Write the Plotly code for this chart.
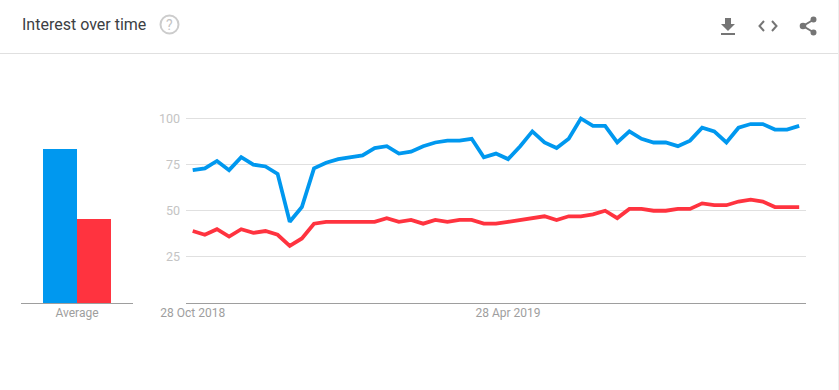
import pandas as pd
import plotly.graph_objects as go

W, H = 839, 390

dates = pd.date_range("2018-10-28", periods=51, freq="7D")
blue_values = [72, 73, 77, 72, 79, 75, 74, 70, 44, 52, 73, 76, 78, 79, 80, 84, 85, 81, 82, 85,
               87, 88, 88, 89, 79, 81, 78, 85, 93, 87, 84, 89, 100, 96, 96, 87, 93, 89, 87, 87,
               85, 88, 95, 93, 87, 95, 97, 97, 94, 94, 96]
red_values = [39, 37, 40, 36, 40, 38, 39, 37, 31, 35, 43, 44, 44, 44, 44, 44, 46, 44, 45, 43,
              45, 44, 45, 45, 43, 43, 44, 45, 46, 47, 45, 47, 47, 48, 50, 46, 51, 51, 50, 50,
              51, 51, 54, 53, 53, 55, 56, 55, 52, 52, 52]
average_blue = [83.5]
average_red = [45.5]
average_label = ["Average"]
y_ticks = [25, 50, 75, 100]
x_ticks = ["2018-10-28", "2019-04-28"]
x_tick_labels = ["28 Oct 2018", "28 Apr 2019"]

BLUE = "#0098ef"
RED = "#ff333f"
GRID = "#e0e0e0"
AXIS = "#9e9e9e"


def px(x):
    return x / W


def py(y):
    return 1 - y / H


def path(*cmds):
    out = []
    for c in cmds:
        if isinstance(c, str):
            out.append(c)
        else:
            out.append(f"{px(c[0]):.5f},{py(c[1]):.5f}")
    return " ".join(out)


def icon(d, **kw):
    return dict(type="path", xref="paper", yref="paper", path=d, layer="above", **kw)


def circle(cx, cy, r, **kw):
    return dict(type="circle", xref="paper", yref="paper", x0=px(cx - r), x1=px(cx + r),
                y0=py(cy + r), y1=py(cy - r), layer="above", **kw)


fig = go.Figure()
fig.add_trace(go.Bar(x=average_label, y=average_blue, marker=dict(color=BLUE, line_width=0),
                     xaxis="x", yaxis="y", showlegend=False))
fig.add_trace(go.Bar(x=average_label, y=average_red, marker=dict(color=RED, line_width=0),
                     xaxis="x", yaxis="y", showlegend=False))
fig.add_trace(go.Scatter(x=dates, y=blue_values, mode="lines", line=dict(color=BLUE, width=3.8),
                         xaxis="x2", yaxis="y2", showlegend=False))
fig.add_trace(go.Scatter(x=dates, y=red_values, mode="lines", line=dict(color=RED, width=3.8),
                         xaxis="x2", yaxis="y2", showlegend=False))

y_top = 303 - 110 * 1.845
y_domain = [py(303), py(y_top)]
ICON = "#757575"

shapes = [
    dict(type="line", xref="paper", yref="paper", x0=0, x1=1, y0=py(53.5), y1=py(53.5),
         line=dict(color=GRID, width=1)),
    dict(type="line", xref="paper", yref="paper", x0=px(838.5), x1=px(838.5), y0=0, y1=1,
         line=dict(color="#eeeeee", width=1)),
    circle(169.5, 24.5, 9, line=dict(color="#cccccc", width=2), fillcolor="rgba(0,0,0,0)"),
    icon(path("M", (725, 18), "L", (731, 18), "L", (731, 24), "L", (735, 24), "L", (728, 31),
              "L", (721, 24), "L", (725, 24), "Z"), line_width=0, fillcolor=ICON),
    icon(path("M", (721, 33), "L", (735, 33), "L", (735, 35), "L", (721, 35), "Z"),
         line_width=0, fillcolor=ICON),
    icon(path("M", (764, 21), "L", (759.5, 26), "L", (764, 31)), line=dict(color=ICON, width=2),
         fillcolor="rgba(0,0,0,0)"),
    icon(path("M", (772, 21), "L", (776.5, 26), "L", (772, 31)), line=dict(color=ICON, width=2),
         fillcolor="rgba(0,0,0,0)"),
    icon(path("M", (813, 20), "L", (803, 26), "L", (813, 32)), line=dict(color=ICON, width=2),
         fillcolor="rgba(0,0,0,0)"),
    circle(803, 26, 3.3, line_width=0, fillcolor=ICON),
    circle(813.5, 19.5, 3, line_width=0, fillcolor=ICON),
    circle(813.5, 32.5, 3, line_width=0, fillcolor=ICON),
]

annotations = [
    dict(text="Interest over time", xref="paper", yref="paper", x=px(19.5), y=py(25), xanchor="left",
         yanchor="middle", showarrow=False, font=dict(family="Roboto", size=16, color="#3c4043")),
    dict(text="?", xref="paper", yref="paper", x=px(169.5), y=py(24.5), xanchor="center",
         yanchor="middle", showarrow=False, font=dict(family="Roboto", size=14, color="#c4c4c4")),
]

fig.update_layout(
    width=W, height=H, autosize=False,
    margin=dict(l=0, r=0, t=0, b=0, pad=0),
    paper_bgcolor="white", plot_bgcolor="white",
    barmode="group", bargap=0.393, bargroupgap=0,
    shapes=shapes, annotations=annotations,
    xaxis=dict(domain=[px(21), px(133)], type="category", showgrid=False, zeroline=False,
               showline=True, linecolor=AXIS, linewidth=1, ticks="", ticklabelstandoff=-1,
               automargin=False,
               tickfont=dict(family="Roboto", size=12, color=AXIS), anchor="y"),
    yaxis=dict(domain=y_domain, range=[0, 110], visible=False, anchor="x", automargin=False),
    xaxis2=dict(domain=[px(186), px(806)], type="date",
                range=["2018-10-24 03:08", "2019-10-16 22:20"],
                tickmode="array", tickvals=x_ticks, ticktext=x_tick_labels, showgrid=False,
                zeroline=False, showline=True, linecolor=AXIS, linewidth=1, ticks="",
                ticklabelstandoff=-1, automargin=False,
                tickfont=dict(family="Roboto", size=12, color=AXIS),
                anchor="y2"),
    yaxis2=dict(domain=y_domain, range=[0, 110], tickmode="array", tickvals=y_ticks,
                showgrid=True, gridcolor=GRID, gridwidth=1, zeroline=False, showline=False,
                ticks="", ticklabelstandoff=5, automargin=False,
                tickfont=dict(family="Roboto", size=12.5, color="#c4c4c4"),
                anchor="x2"),
)

fig.write_html("out.html", config=dict(displayModeBar=False),
               post_script="document.body.style.margin='0';")
